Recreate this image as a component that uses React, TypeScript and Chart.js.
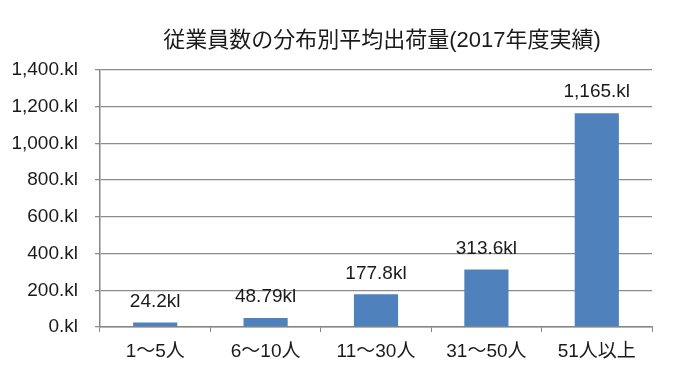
import React, { useEffect, useRef } from "react";
import { Chart, registerables } from "chart.js";

Chart.register(...registerables);

const title = "従業員数の分布別平均出荷量(2017年度実績)";
const categories = ["1〜5人", "6〜10人", "11〜30人", "31〜50人", "51人以上"];
const values = [24.2, 48.79, 177.8, 313.6, 1165];
const valueLabels = ["24.2kl", "48.79kl", "177.8kl", "313.6kl", "1,165.kl"];
const yTickLabels = ["0.kl", "200.kl", "400.kl", "600.kl", "800.kl", "1,000.kl", "1,200.kl", "1,400.kl"];

const FONT = "'Liberation Sans', Arial, 'Noto Sans CJK JP', sans-serif";

export default function App() {
  const ref = useRef<HTMLCanvasElement | null>(null);

  useEffect(() => {
    if (!ref.current) return;
    const labelPlugin = {
      id: "labels",
      afterDatasetsDraw(chart: any) {
        const ctx = chart.ctx;
        const meta = chart.getDatasetMeta(0);
        ctx.save();
        ctx.font = `19px ${FONT}`;
        ctx.fillStyle = "#1a1a1a";
        ctx.textAlign = "center";
        ctx.textBaseline = "middle";
        meta.data.forEach((el: any, i: number) => {
          ctx.fillText(valueLabels[i], el.x, el.y - 21);
        });
        // title
        const ca = chart.chartArea;
        ctx.font = `22px ${FONT}`;
        ctx.fillStyle = "#1a1a1a";
        ctx.fillText(title, (ca.left + ca.right) / 2 + 6, 41);
        ctx.restore();
      },
    };
    const chart = new Chart(ref.current, {
      type: "bar",
      data: {
        labels: categories,
        datasets: [
          {
            data: values,
            backgroundColor: "#4f81bd",
            categoryPercentage: 1,
            barPercentage: 0.4,
          },
        ],
      },
      options: {
        animation: false,
        responsive: false,
        layout: { padding: { top: 70, right: 28, bottom: 0, left: 0 } },
        plugins: { legend: { display: false }, tooltip: { enabled: false }, title: { display: false } },
        scales: {
          x: {
            grid: {
              display: true,
              drawOnChartArea: false,
              drawTicks: true,
              tickLength: 5,
              color: "#868686",
              offset: true,
            },
            border: { display: true, color: "#868686", width: 1.5 },
            ticks: { color: "#1a1a1a", font: { size: 19, family: FONT }, padding: 8 },
            afterFit: (s: any) => {
              s.height = 47;
            },
          },
          y: {
            min: 0,
            max: 1400,
            ticks: {
              stepSize: 200,
              color: "#1a1a1a",
              font: { size: 19, family: FONT },
              padding: 17,
              callback: (_v: any, i: number) => yTickLabels[i],
            },
            grid: { color: "#8c8c8c", tickLength: 5, lineWidth: 1.3 },
            border: { display: true, color: "#868686", width: 1.5 },
            afterFit: (s: any) => {
              s.width = 100;
            },
          },
        },
      },
      plugins: [labelPlugin],
    });
    return () => chart.destroy();
  }, []);

  return (
    <div style={{ position: "fixed", left: 0, top: 0, width: 680, height: 374, background: "#fff" }}>
      <canvas ref={ref} width={680} height={374} style={{ width: 680, height: 374 }} />
    </div>
  );
}
